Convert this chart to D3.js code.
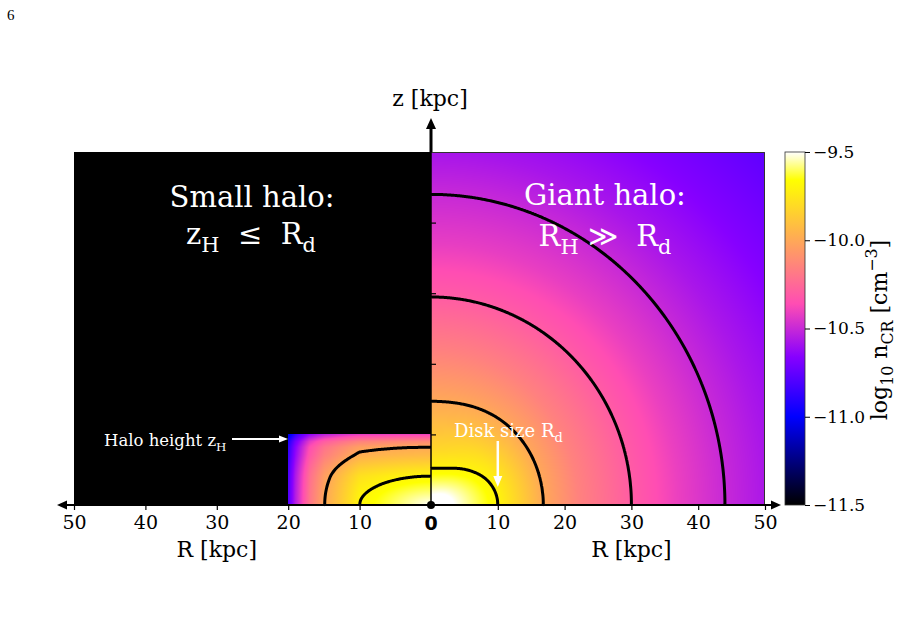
<!DOCTYPE html>
<html>
<head>
<meta charset="utf-8">
<script src="https://cdn.jsdelivr.net/npm/d3@7"></script>
<style>
  body { margin: 0; background: #fff; }
  svg { display: block; }
  text { font-family: "DejaVu Serif", serif; }
</style>
</head>
<body>
<svg id="chart" width="899" height="635"></svg>
<script>
// ---- values ----
// giant halo (right): log10 n_CR along the disk plane (z=0) and along the z axis (R=0), vs distance in kpc
const giantRadius = [0, 2, 4, 6, 8, 10, 13, 16.8, 22, 30, 37, 44, 50, 60, 71];
const giantAlongR = [-9.42, -9.45, -9.52, -9.58, -9.64, -9.70, -9.83, -10.00, -10.15, -10.30, -10.41, -10.50, -10.57, -10.67, -10.76];
const giantAlongZ = [-9.42, -9.53, -9.64, -9.74, -9.82, -9.88, -9.96, -10.05, -10.16, -10.31, -10.42, -10.50, -10.58, -10.68, -10.77];
const giantLevels = [-9.7, -10.0, -10.3, -10.5];

// small halo (left): drop of log10 n_CR below the peak, along R (z=0) and along z (R=0)
const smallPeak = -9.5;
const smallR = [0, 2, 4, 6, 8, 10, 11.8, 14.1, 14.9, 17, 19, 20];
const smallDropR = [0, 0.04, 0.08, 0.12, 0.16, 0.2, 0.32, 0.46, 0.5, 0.7, 1.05, 1.3];
const smallZ = [0, 1, 2, 3, 4.1, 5, 6.1, 7, 7.8, 8.2, 9, 10];
const smallDropZ = [0, 0.049, 0.098, 0.146, 0.2, 0.27, 0.36, 0.43, 0.475, 0.5, 0.62, 0.9];
const smallLevels = [-9.7, -10.0];
const haloR = 20, haloZ = 10;

const rTicks = [10, 20, 30, 40, 50];
const zTicks = [10, 20, 30, 40];
const cbarTicks = [-9.5, -10.0, -10.5, -11.0, -11.5];

// gnuplot2 colour map stops
const cmapStops = [0, 0.25, 0.42, 0.57, 0.92, 1];
const cmapColors = ["#000000", "#0000ff", "#8700ff", "#ff4db3", "#ffff00", "#ffffff"];

const svg = d3.select("#chart");

const xLeft = d3.scaleLinear().domain([0, 50]).range([431, 74]);
const xRight = d3.scaleLinear().domain([0, 50]).range([431, 765]);
const zScale = d3.scaleLinear().domain([0, 50]).range([505, 152]);
const cScale = d3.scaleLinear().domain([-11.5, -9.5]).range([505, 152]);

const cmap = d3.scaleLinear().domain(cmapStops).range(cmapColors).interpolate(d3.interpolateRgb).clamp(true);
const norm = d3.scaleLinear().domain([-11.5, -9.5]).range([0, 1]).clamp(true);
const colorOf = v => d3.rgb(cmap(norm(v)));

const gR = d3.scaleLinear().domain(giantRadius).range(giantAlongR).clamp(true);
const gZ = d3.scaleLinear().domain(giantRadius).range(giantAlongZ).clamp(true);
function giantValue(R, z) {
  const r = Math.hypot(R, z);
  const w = r > 0 ? (z * z) / (r * r) : 0;
  return (1 - w) * gR(r) + w * gZ(r);
}
const sR = d3.scaleLinear().domain(smallR).range(smallDropR).clamp(true);
const sZ = d3.scaleLinear().domain(smallZ).range(smallDropZ).clamp(true);
function smallValue(R, z) {
  return smallPeak - Math.hypot(sR(R), sZ(z));
}

// pixel grid of a panel, sampled through the scales
function panelGrid(x0, y0, W, H, xs, fn) {
  const values = new Float64Array(W * H);
  for (let j = 0; j < H; j++) {
    const z = zScale.invert(y0 + j + 0.5);
    for (let i = 0; i < W; i++) {
      values[j * W + i] = fn(xs.invert(x0 + i + 0.5), z);
    }
  }
  return values;
}

function drawPanel(x0, y0, W, H, values, levels) {
  const canvas = document.createElement("canvas");
  canvas.width = W; canvas.height = H;
  const ctx = canvas.getContext("2d");
  const img = ctx.createImageData(W, H);
  for (let k = 0; k < W * H; k++) {
    const c = colorOf(values[k]);
    img.data[4 * k] = c.r; img.data[4 * k + 1] = c.g; img.data[4 * k + 2] = c.b; img.data[4 * k + 3] = 255;
  }
  ctx.putImageData(img, 0, 0);
  svg.append("image")
    .attr("x", x0).attr("y", y0).attr("width", W).attr("height", H)
    .attr("preserveAspectRatio", "none")
    .attr("href", canvas.toDataURL());

  // contour lines, leaving out the parts running along the panel edges
  const onEdge = p => p[0] <= 0.01 || p[0] >= W - 0.01 || p[1] <= 0.01 || p[1] >= H - 0.01;
  const lines = [];
  d3.contours().size([W, H]).thresholds(levels)(values).forEach(c => {
    c.coordinates.forEach(poly => poly.forEach(ring => {
      let cur = [ring[0]];
      for (let k = 1; k < ring.length; k++) {
        const a = ring[k - 1], b = ring[k];
        if (onEdge(a) && onEdge(b)) {
          if (cur.length > 1) lines.push(cur);
          cur = [b];
        } else cur.push(b);
      }
      if (cur.length > 1) lines.push(cur);
    }));
  });
  const line = d3.line().x(p => x0 + p[0]).y(p => y0 + p[1]);
  svg.append("g")
    .selectAll("path")
    .data(lines)
    .join("path")
    .attr("d", line)
    .attr("fill", "none")
    .attr("stroke", "#000")
    .attr("stroke-width", 3)
    .attr("stroke-linejoin", "round");
}

// left panel: black background + small halo
svg.append("rect")
  .attr("x", xLeft(50)).attr("y", zScale(50))
  .attr("width", xLeft(0) - xLeft(50)).attr("height", zScale(0) - zScale(50))
  .attr("fill", "#000");

const lx0 = Math.round(xLeft(haloR)), ly0 = Math.round(zScale(haloZ));
const lW = Math.round(xLeft(0)) - lx0, lH = Math.round(zScale(0)) - ly0;
drawPanel(lx0, ly0, lW, lH, panelGrid(lx0, ly0, lW, lH, xLeft, smallValue), smallLevels);

// right panel: giant halo
const rx0 = Math.round(xRight(0)), ry0 = Math.round(zScale(50));
const rW = Math.round(xRight(50)) - rx0, rH = Math.round(zScale(0)) - ry0;
drawPanel(rx0, ry0, rW, rH, panelGrid(rx0, ry0, rW, rH, xRight, giantValue), giantLevels);

// frame of right panel (top and right)
svg.append("path")
  .attr("d", `M${rx0},${ry0 + 0.5}H${rx0 + rW - 0.5}V${ry0 + rH}`)
  .attr("fill", "none").attr("stroke", "#333").attr("stroke-width", 1);

// ---- axes ----
function styleAxis(g) {
  g.select(".domain").remove();
  g.selectAll(".tick line").attr("stroke", "#000").attr("stroke-width", 1.2);
  g.selectAll(".tick text").attr("font-family", "DejaVu Serif").attr("font-size", 19).attr("fill", "#000");
}
svg.append("g").attr("transform", "translate(0,505)")
  .call(d3.axisBottom(xLeft).tickValues(rTicks).tickSize(5).tickPadding(6))
  .call(styleAxis);
svg.append("g").attr("transform", "translate(0,505)")
  .call(d3.axisBottom(xRight).tickValues(rTicks).tickSize(5).tickPadding(6))
  .call(styleAxis);
svg.append("g").attr("transform", "translate(431,0)")
  .call(d3.axisRight(zScale).tickValues(zTicks).tickSize(5).tickFormat(""))
  .call(g => { g.select(".domain").remove(); g.selectAll(".tick line").attr("stroke", "#000").attr("stroke-width", 1.2); });

// axis lines with arrows
svg.append("line").attr("x1", 431).attr("x2", 431).attr("y1", 505).attr("y2", 152)
  .attr("stroke", "#000").attr("stroke-width", 1.5);
svg.append("line").attr("x1", 431).attr("x2", 431).attr("y1", 152).attr("y2", 126)
  .attr("stroke", "#000").attr("stroke-width", 3);
svg.append("path").attr("d", "M431,118L426,129L436,129Z").attr("fill", "#000");
svg.append("line").attr("x1", 64).attr("x2", 774).attr("y1", 505).attr("y2", 505)
  .attr("stroke", "#000").attr("stroke-width", 2);
svg.append("path").attr("d", "M57,505L67,500.5L67,509.5Z").attr("fill", "#000");
svg.append("path").attr("d", "M781,505L771,500.5L771,509.5Z").attr("fill", "#000");
svg.append("circle").attr("cx", 431).attr("cy", 505).attr("r", 4).attr("fill", "#000");
svg.append("text").attr("x", 431).attr("y", 530).attr("text-anchor", "middle")
  .attr("font-weight", "bold").attr("font-size", 19).style("font-family", "DejaVu Sans").text("0");

svg.append("text").attr("x", xLeft(30)).attr("y", 557).attr("text-anchor", "middle").attr("font-size", 22).text("R [kpc]");
svg.append("text").attr("x", xRight(30)).attr("y", 557).attr("text-anchor", "middle").attr("font-size", 22).text("R [kpc]");
svg.append("text").attr("x", 430).attr("y", 106).attr("text-anchor", "middle").attr("font-size", 22).text("z [kpc]");

// ---- rich text helper (sub/superscripts) ----
function rich(sel, parts, fs) {
  let shift = 0;
  parts.forEach(p => {
    const target = p.sub ? fs * 0.28 : p.sup ? -fs * 0.45 : 0;
    sel.append("tspan")
      .attr("dy", target - shift)
      .attr("font-size", (p.sub || p.sup) ? fs * 0.72 : fs)
      .text(p.t);
    shift = target;
  });
}

// panel titles
svg.append("text").attr("x", 252).attr("y", 207).attr("text-anchor", "middle")
  .attr("font-size", 29).attr("fill", "#fff").text("Small halo:");
rich(svg.append("text").attr("x", 251).attr("y", 244).attr("text-anchor", "middle")
  .attr("fill", "#fff").style("white-space", "pre"),
  [{t: "z"}, {t: "H", sub: true}, {t: "  \u2264  "}, {t: "R"}, {t: "d", sub: true}], 29);
svg.append("text").attr("x", 605).attr("y", 205).attr("text-anchor", "middle")
  .attr("font-size", 29).attr("fill", "#fff").text("Giant halo:");
rich(svg.append("text").attr("x", 605).attr("y", 246).attr("text-anchor", "middle")
  .attr("fill", "#fff").style("white-space", "pre"),
  [{t: "R"}, {t: "H", sub: true}, {t: " \u226B  "}, {t: "R"}, {t: "d", sub: true}], 29);

// annotations
rich(svg.append("text").attr("x", 104).attr("y", 446).attr("fill", "#fff"),
  [{t: "Halo height z"}, {t: "H", sub: true}], 16.5);
svg.append("line").attr("x1", 232).attr("x2", 280).attr("y1", 439).attr("y2", 439)
  .attr("stroke", "#fff").attr("stroke-width", 2);
svg.append("path").attr("d", "M288,439L279,435.5L279,442.5Z").attr("fill", "#fff");

rich(svg.append("text").attr("x", 454).attr("y", 437).attr("fill", "#fff"),
  [{t: "Disk size R"}, {t: "d", sub: true}], 18);
svg.append("line").attr("x1", xRight(10)).attr("x2", xRight(10)).attr("y1", 441).attr("y2", 478)
  .attr("stroke", "#fff").attr("stroke-width", 2.5);
svg.append("path").attr("d", `M${xRight(10)},487L${xRight(10) - 4.5},476L${xRight(10) + 4.5},476Z`).attr("fill", "#fff");

// ---- colour bar ----
const defs = svg.append("defs");
const grad = defs.append("linearGradient").attr("id", "cbar")
  .attr("x1", 0).attr("y1", 1).attr("x2", 0).attr("y2", 0);
cmapStops.forEach((s, i) => grad.append("stop").attr("offset", s).attr("stop-color", cmapColors[i]));
svg.append("rect").attr("x", 785).attr("y", 152).attr("width", 20).attr("height", 353)
  .attr("fill", "url(#cbar)").attr("stroke", "#333").attr("stroke-width", 0.8);
svg.append("g").attr("transform", "translate(805,0)")
  .call(d3.axisRight(cScale).tickValues(cbarTicks).tickSize(5).tickPadding(3).tickFormat(d3.format(".1f")))
  .call(g => {
    g.select(".domain").remove();
    g.selectAll(".tick line").attr("stroke", "#000");
    g.selectAll(".tick text").attr("font-family", "DejaVu Serif").attr("font-size", 17).attr("fill", "#000");
  });
rich(svg.append("text").attr("transform", "translate(887,330) rotate(-90)").attr("text-anchor", "middle"),
  [{t: "log"}, {t: "10", sub: true}, {t: " n"}, {t: "CR", sub: true}, {t: " [cm"}, {t: "\u22123", sup: true}, {t: "]"}], 22);

// page number
svg.append("text").attr("x", 7).attr("y", 20).attr("font-size", 15)
  .style("font-family", "Liberation Serif").text("6");
</script>
</body>
</html>
